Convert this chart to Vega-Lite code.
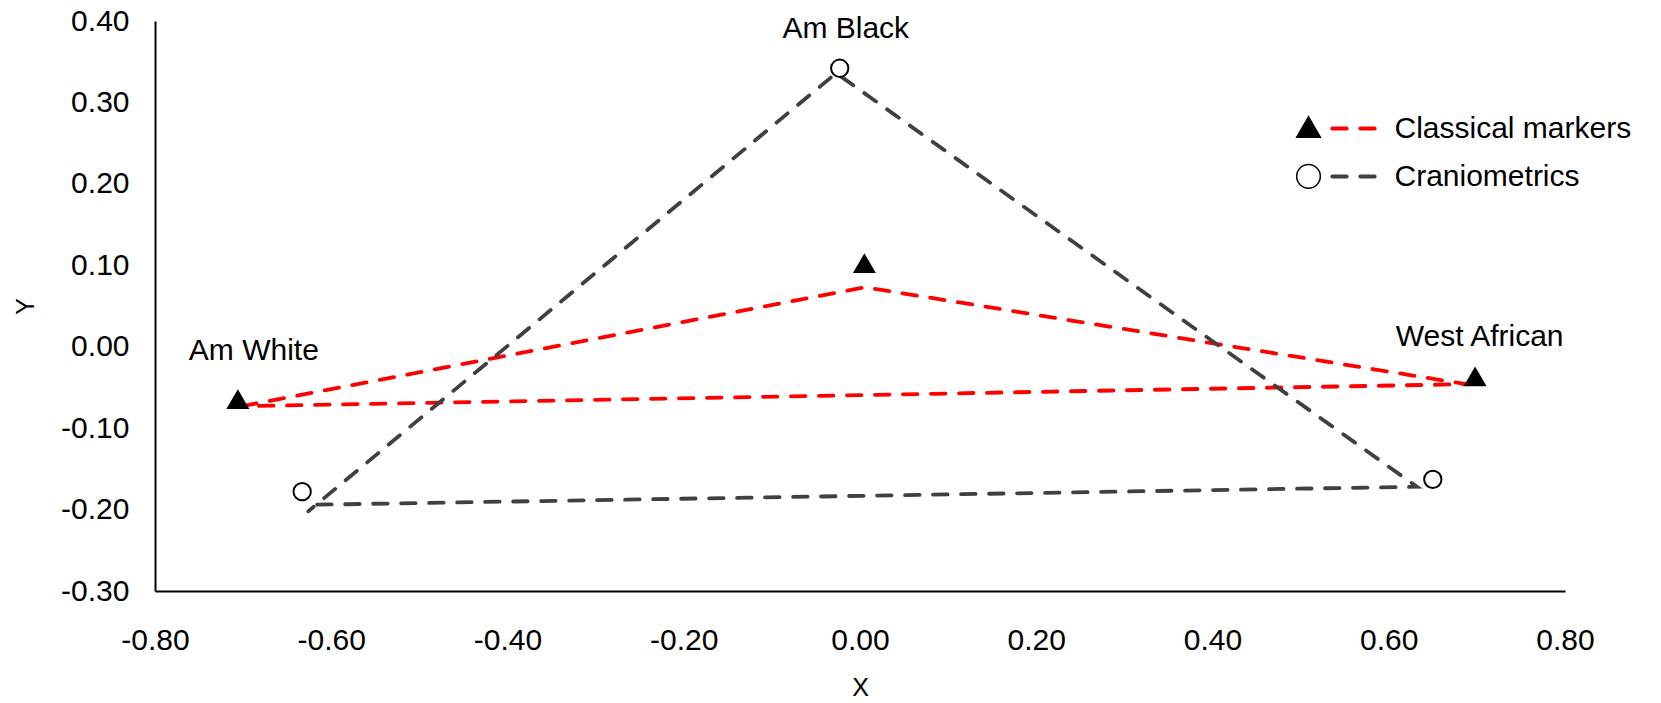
{
  "$schema": "https://vega.github.io/schema/vega-lite/v6.json",
  "width": 1410,
  "height": 570,
  "autosize": {"type": "none"},
  "padding": {"left": 155, "top": 21, "right": 96, "bottom": 112},
  "background": "white",
  "config": {
    "view": {"stroke": null},
    "font": "Liberation Sans",
    "axis": {
      "grid": false,
      "ticks": false,
      "tickSize": 0,
      "domainColor": "black",
      "domainWidth": 2,
      "labelFontSize": 30,
      "labelColor": "black",
      "labelFont": "Liberation Sans",
      "titleFontSize": 25,
      "titleFontWeight": "normal",
      "titleColor": "black",
      "titleFont": "Liberation Sans"
    }
  },
  "datasets": {
    "points": [
      {"series": "Classical markers", "group": "Am White", "x": -0.706, "y": -0.065},
      {"series": "Classical markers", "group": "Am Black", "x": 0.005, "y": 0.102},
      {"series": "Classical markers", "group": "West African", "x": 0.698, "y": -0.037},
      {"series": "Craniometrics", "group": "Am White", "x": -0.633, "y": -0.178},
      {"series": "Craniometrics", "group": "Am Black", "x": -0.023, "y": 0.342},
      {"series": "Craniometrics", "group": "West African", "x": 0.65, "y": -0.163}
    ],
    "lines": [
      {"series": "Classical markers", "order": 1, "x": -0.701, "y": -0.073},
      {"series": "Classical markers", "order": 2, "x": 0.006, "y": 0.073},
      {"series": "Classical markers", "order": 3, "x": 0.688, "y": -0.046},
      {"series": "Classical markers", "order": 4, "x": -0.701, "y": -0.073},
      {"series": "Craniometrics", "order": 1, "x": -0.616, "y": -0.194},
      {"series": "Craniometrics", "order": 2, "x": 0.632, "y": -0.172},
      {"series": "Craniometrics", "order": 3, "x": -0.027, "y": 0.336},
      {"series": "Craniometrics", "order": 4, "x": -0.626, "y": -0.202}
    ]
  },
  "layer": [
    {
      "data": {"name": "lines"},
      "mark": {"type": "line", "strokeWidth": 3.8, "strokeDash": [14.5, 13.5], "strokeCap": "round"},
      "encoding": {
        "x": {
          "field": "x", "type": "quantitative",
          "scale": {"domain": [-0.8, 0.8], "nice": false, "zero": false},
          "axis": {
            "title": "X",
            "values": [-0.8, -0.6, -0.4, -0.2, 0, 0.2, 0.4, 0.6, 0.8],
            "labelExpr": "replace(format(datum.value, '.2f'), '−', '-')",
            "labelPadding": 34,
            "titlePadding": 20,
            "labelFlush": false,
            "labelOverlap": false
          }
        },
        "y": {
          "field": "y", "type": "quantitative",
          "scale": {"domain": [-0.3, 0.4], "nice": false, "zero": false},
          "axis": {
            "title": "Y",
            "values": [-0.3, -0.2, -0.1, 0, 0.1, 0.2, 0.3, 0.4],
            "labelExpr": "replace(format(datum.value, '.2f'), '−', '-')",
            "labelPadding": 26,
            "titlePadding": 22,
            "labelOverlap": false
          }
        },
        "order": {"field": "order", "type": "quantitative"},
        "color": {
          "field": "series", "type": "nominal",
          "scale": {"range": ["#ff0000", "#404040"]},
          "legend": {
            "orient": "none",
            "legendX": 1175,
            "legendY": 84,
            "title": null,
            "padding": 0,
            "symbolType": "M-1,0H1",
            "symbolSize": 1806,
            "symbolStrokeWidth": 3.8,
            "symbolDash": [14.5, 13.5],
            "labelFontSize": 30,
            "labelColor": "black",
            "labelFont": "Liberation Sans",
            "labelOffset": 17.5,
            "labelLimit": 0,
            "rowPadding": 9,
            "encode": {"symbols": {"update": {"strokeCap": {"value": "round"}, "strokeDash": {"value": [14.5, 13.5]}, "strokeWidth": {"value": 3.8}}}}
          }
        }
      }
    },
    {
      "data": {"name": "points"},
      "mark": {"type": "point", "filled": true, "stroke": "black", "strokeWidth": 2, "opacity": 1},
      "encoding": {
        "x": {"field": "x", "type": "quantitative"},
        "y": {"field": "y", "type": "quantitative"},
        "shape": {
          "field": "series", "type": "nominal",
          "scale": {"range": ["triangle-up", "circle"]},
          "legend": {
            "orient": "none",
            "legendX": 1140.5,
            "legendY": 93,
            "title": null,
            "padding": 0,
            "symbolSize": 560,
            "labelExpr": "''",
            "labelFontSize": 1,
            "rowPadding": 20.3,
            "encode": {"symbols": {"update": {"strokeWidth": {"value": 3.4}, "stroke": {"value": "black"}}}}
          }
        },
        "fill": {
          "field": "series", "type": "nominal",
          "scale": {"range": ["black", "white"]},
          "legend": {
            "orient": "none",
            "legendX": 1140.5,
            "legendY": 93,
            "title": null,
            "padding": 0,
            "symbolSize": 560,
            "labelExpr": "''",
            "labelFontSize": 1,
            "rowPadding": 20.3
          }
        },
        "size": {"condition": {"test": "datum.series === 'Craniometrics'", "value": 300}, "value": 380}
      }
    },
    {
      "data": {"name": "points"},
      "transform": [{"filter": "datum.series === 'Craniometrics' && datum.group === 'Am Black'"}],
      "mark": {"type": "text", "fontSize": 30, "align": "center", "baseline": "middle", "dx": 6, "dy": -39, "color": "black"},
      "encoding": {
        "x": {"field": "x", "type": "quantitative"},
        "y": {"field": "y", "type": "quantitative"},
        "text": {"field": "group"}
      }
    },
    {
      "data": {"name": "points"},
      "transform": [{"filter": "datum.series === 'Classical markers' && datum.group === 'Am White'"}],
      "mark": {"type": "text", "fontSize": 30, "align": "center", "baseline": "middle", "dx": 16, "dy": -49, "color": "black"},
      "encoding": {
        "x": {"field": "x", "type": "quantitative"},
        "y": {"field": "y", "type": "quantitative"},
        "text": {"field": "group"}
      }
    },
    {
      "data": {"name": "points"},
      "transform": [{"filter": "datum.series === 'Classical markers' && datum.group === 'West African'"}],
      "mark": {"type": "text", "fontSize": 30, "align": "center", "baseline": "middle", "dx": 4.5, "dy": -39.5, "color": "black"},
      "encoding": {
        "x": {"field": "x", "type": "quantitative"},
        "y": {"field": "y", "type": "quantitative"},
        "text": {"field": "group"}
      }
    }
  ]
}
